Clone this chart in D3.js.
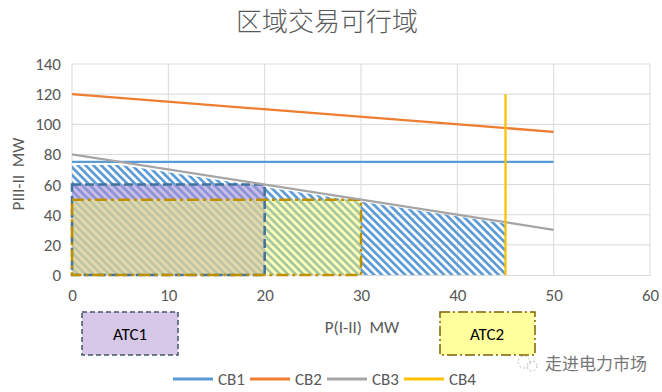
<!DOCTYPE html>
<html><head><meta charset="utf-8">
<script src="https://cdn.jsdelivr.net/npm/d3@7"></script>
<style>body{margin:0;background:#fff}svg{display:block}text{font-family:Carlito,Calibri,"Open Sans","Liberation Sans",sans-serif}</style>
</head><body>
<svg id="c" width="662" height="392"></svg>
<script>
const xTicks = [0,10,20,30,40,50,60];
const yTicks = [0,20,40,60,80,100,120,140];
const cb1 = [[0,75],[50,75]];
const cb2 = [[0,120],[50,95]];
const cb3 = [[0,80],[50,30]];
const cb4 = [[45,0],[45,120]];
const feasible = [[0,0],[0,73],[5,73],[45,34],[45,0]];
const atc1 = [0,20,0,60]; // x0,x1,y0,y1
const atc2 = [0,30,0,50];
const series = [{name:"CB1",data:cb1,color:"#5b9bd5"},{name:"CB2",data:cb2,color:"#ed7d31"},{name:"CB3",data:cb3,color:"#a5a5a5"},{name:"CB4",data:cb4,color:"#ffc000"}];

const svg = d3.select("#c");
const x = d3.scaleLinear().domain([0,60]).range([72,650]);
const y = d3.scaleLinear().domain([0,140]).range([275,64]);

const defs = svg.append("defs");
const pat = defs.append("pattern").attr("id","hatch").attr("patternUnits","userSpaceOnUse")
  .attr("width",5.5).attr("height",5.5).attr("patternTransform","rotate(45)");
pat.append("rect").attr("width",5.5).attr("height",2.7).attr("fill","#5b9bd5");

// title
svg.append("text").attr("x",327).attr("y",31).attr("text-anchor","middle")
  .attr("font-size",26).attr("fill","#595959").style("font-family","'Noto Sans CJK SC',sans-serif").attr("font-weight",300).text("区域交易可行域");

// gridlines
svg.append("g").selectAll("line").data(yTicks.slice(1)).join("line")
  .attr("x1",x(0)).attr("x2",x(60)).attr("y1",d=>y(d)).attr("y2",d=>y(d)).attr("stroke","#d9d9d9");
svg.append("g").selectAll("line").data(xTicks).join("line")
  .attr("x1",d=>x(d)).attr("x2",d=>x(d)).attr("y1",y(0)).attr("y2",y(140)).attr("stroke","#d9d9d9");

// axes
const xa = svg.append("g").attr("transform",`translate(0,${y(0)})`).call(d3.axisBottom(x).tickValues(xTicks).tickSize(0).tickPadding(14));
xa.select(".domain").attr("stroke","#d9d9d9");
xa.selectAll("text").attr("font-size",17).attr("fill","#595959");
const ya = svg.append("g").attr("transform",`translate(${x(0)},0)`).call(d3.axisLeft(y).tickValues(yTicks).tickSize(0).tickPadding(11));
ya.select(".domain").remove();
ya.selectAll("text").attr("font-size",17).attr("fill","#595959");

// feasible region
const line = d3.line().x(d=>x(d[0])).y(d=>y(d[1]));
svg.append("path").attr("d",line(feasible)+"Z").attr("fill","url(#hatch)");

// ATC rects
function rect(a){return {x:x(a[0]),y:y(a[3]),w:x(a[1])-x(a[0]),h:y(a[2])-y(a[3])};}
const r1 = rect(atc1), r2 = rect(atc2);
svg.append("rect").attr("x",r1.x).attr("y",r1.y).attr("width",r1.w).attr("height",r1.h)
  .attr("fill","#a890d8").attr("fill-opacity",0.6);
svg.append("rect").attr("x",r2.x).attr("y",r2.y).attr("width",r2.w).attr("height",r2.h)
  .attr("fill","#ffff66").attr("fill-opacity",0.45);
svg.append("rect").attr("x",r1.x).attr("y",r1.y).attr("width",r1.w).attr("height",r1.h)
  .attr("fill","none").attr("stroke","#41719c").attr("stroke-width",2.5).attr("stroke-dasharray","9,4");
svg.append("rect").attr("x",r2.x).attr("y",r2.y).attr("width",r2.w).attr("height",r2.h)
  .attr("fill","none").attr("stroke","#bf9000").attr("stroke-width",2.5).attr("stroke-dasharray","12,4,3,4");

// lines
svg.append("g").selectAll("path").data(series).join("path")
  .attr("d",d=>line(d.data)).attr("fill","none").attr("stroke",d=>d.color).attr("stroke-width",2.25);

// axis titles
svg.append("text").attr("transform","translate(24,174) rotate(-90)").attr("text-anchor","middle")
  .attr("font-size",17).attr("fill","#595959").attr("xml:space","preserve").text("PIII-II  MW");
svg.append("text").attr("x",362).attr("y",333).attr("text-anchor","middle")
  .attr("font-size",17).attr("fill","#595959").attr("xml:space","preserve").text("P(I-II)  MW");

// ATC legend boxes
svg.append("rect").attr("x",82).attr("y",312).attr("width",96).attr("height",43)
  .attr("fill","#d6c8e6").attr("stroke","#44546a").attr("stroke-width",1.5).attr("stroke-dasharray","5,3");
svg.append("text").attr("x",130).attr("y",340).attr("text-anchor","middle").attr("font-size",17).attr("fill","#000").text("ATC1");
svg.append("rect").attr("x",440).attr("y",312).attr("width",95).attr("height",43)
  .attr("fill","#ffff9e").attr("stroke","#7f6000").attr("stroke-width",1.5).attr("stroke-dasharray","10,3,2,3");
svg.append("text").attr("x",487).attr("y",340).attr("text-anchor","middle").attr("font-size",17).attr("fill","#000").text("ATC2");

// legend
const lg = svg.append("g").selectAll("g").data(series).join("g").attr("transform",(d,i)=>`translate(${173+i*77},379)`);
lg.append("line").attr("x1",0).attr("x2",40).attr("y1",0).attr("y2",0).attr("stroke",d=>d.color).attr("stroke-width",3);
lg.append("text").attr("x",45).attr("y",6).attr("font-size",17).attr("fill","#595959").text(d=>d.name);

// watermark
const wm = svg.append("g").attr("transform","translate(532,364)");
wm.append("circle").attr("cx",-8).attr("cy",-2).attr("r",6).attr("fill","none").attr("stroke","#bbb").attr("stroke-dasharray","2,2");
wm.append("circle").attr("cx",0).attr("cy",2).attr("r",5).attr("fill","none").attr("stroke","#bbb").attr("stroke-dasharray","2,2");
svg.append("text").attr("x",545).attr("y",370).attr("font-size",17).attr("fill","#777")
  .style("font-family","'Noto Sans CJK SC',sans-serif").text("走进电力市场");
</script>
</body></html>
